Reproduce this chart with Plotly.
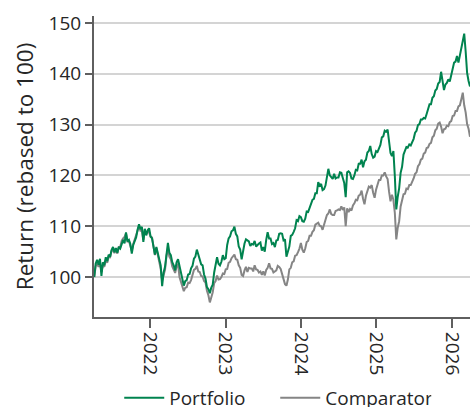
import pandas as pd
import plotly.graph_objects as go

# Weekly observations starting 2021-04-05
start_date = "2021-04-05"

portfolio = [
    100.0, 102.6, 103.4, 102.4, 103.6, 100.2, 102.9, 102.3, 103.9, 103.1,
    104.4, 104.0, 105.3, 105.9, 104.9, 105.7, 104.8, 105.9, 105.6, 106.7,
    107.3, 106.6, 108.8, 107.0, 107.3, 106.5, 104.6, 106.3, 106.9, 107.8,
    109.3, 110.4, 109.4, 109.9, 106.9, 109.5, 108.2, 109.2, 109.6, 108.0,
    107.6, 106.0, 104.4, 105.9, 104.6, 103.9, 102.3, 98.2, 100.9, 102.0,
    104.7, 106.7, 104.8, 104.3, 102.9, 102.3, 101.3, 102.9, 103.5, 102.2,
    101.2, 99.5, 98.3, 99.2, 99.4, 100.5, 100.6, 101.7, 102.2, 103.6,
    104.0, 105.4, 104.4, 103.9, 102.5, 102.3, 100.5, 99.7, 98.0, 97.6,
    96.8, 97.9, 98.5, 100.9, 102.2, 103.9, 102.6, 102.3, 103.0, 104.3,
    103.5, 103.7, 106.3, 107.6, 108.0, 109.0, 109.2, 109.9, 108.5, 108.0,
    106.0, 105.4, 103.5, 105.5, 106.6, 107.4, 107.2, 107.0, 106.1, 106.5,
    106.4, 107.1, 106.0, 106.4, 106.6, 106.8, 105.2, 105.9, 105.0, 107.3,
    108.8, 107.6, 107.6, 106.5, 106.7, 105.9, 107.2, 107.3, 108.5, 108.6,
    108.5, 107.2, 107.4, 104.0, 104.8, 106.0, 108.1, 108.3, 108.9, 109.6,
    111.2, 111.0, 112.0, 111.8, 111.0, 110.9, 111.5, 112.9, 112.8, 113.6,
    114.0, 115.2, 115.4, 116.5, 116.5, 118.7, 118.0, 118.3, 117.1, 117.3,
    118.0, 119.6, 121.3, 120.0, 119.6, 119.3, 120.3, 119.4, 119.6, 119.6,
    120.6, 120.5, 119.5, 118.5, 115.7, 120.6, 120.8, 120.5, 119.4, 119.3,
    120.0, 121.1, 121.0, 122.3, 122.3, 123.1, 121.6, 122.8, 123.1, 124.5,
    124.8, 125.8, 124.2, 123.5, 123.7, 124.8, 124.6, 125.3, 126.0, 127.5,
    127.7, 128.8, 128.6, 129.0, 126.1, 124.4, 123.8, 124.8, 119.8, 113.3,
    115.8, 117.5, 120.5, 121.7, 124.1, 124.8, 125.6, 125.5, 126.1, 125.9,
    126.6, 127.2, 128.4, 128.8, 129.9, 130.1, 131.0, 131.0, 131.3, 131.2,
    132.1, 133.0, 134.0, 134.0, 135.3, 135.6, 136.7, 137.0, 138.1, 138.4,
    140.4, 138.6, 136.8, 137.9, 138.2, 138.9, 138.5, 139.7, 141.0, 142.2,
    142.4, 143.5, 142.2, 143.7, 145.1, 147.0, 147.9, 144.4, 140.2, 138.6,
    137.5,
]

comparator = [
    100.0, 102.1, 102.6, 102.0, 102.8, 101.0, 102.3, 102.0, 103.4, 102.8,
    104.0, 103.9, 105.1, 105.4, 104.7, 105.4, 104.6, 105.9, 105.9, 107.1,
    107.6, 107.9, 108.6, 107.0, 107.1, 106.3, 105.2, 106.5, 107.3, 108.2,
    109.3, 110.0, 109.1, 109.1, 107.3, 109.3, 108.4, 108.9, 108.8, 107.9,
    107.8, 106.1, 104.3, 105.7, 104.4, 103.5, 101.6, 99.3, 100.5, 101.4,
    104.2, 105.5, 104.0, 103.5, 102.1, 101.6, 100.8, 102.1, 102.6, 100.0,
    99.2, 98.0, 97.2, 97.9, 98.0, 98.9, 98.8, 99.4, 100.2, 101.4,
    101.6, 102.2, 101.1, 101.0, 100.2, 100.1, 99.2, 98.9, 97.3, 96.4,
    95.0, 96.1, 97.0, 98.8, 99.2, 100.3, 99.5, 99.6, 100.0, 100.7,
    100.6, 101.5, 101.6, 102.8, 103.0, 103.7, 104.0, 104.4, 103.5, 103.4,
    102.3, 101.8, 100.4, 100.2, 101.3, 102.0, 101.0, 101.8, 101.7, 101.7,
    101.1, 102.3, 101.5, 101.4, 100.9, 101.1, 100.4, 101.1, 100.3, 101.4,
    101.8, 102.7, 101.7, 101.6, 100.9, 101.2, 101.3, 102.2, 102.0, 101.6,
    100.5, 99.8, 98.6, 98.3, 99.5, 101.5, 101.8, 102.9, 103.1, 104.2,
    104.3, 104.9, 105.6, 106.7, 105.4, 104.8, 105.6, 106.9, 107.1, 108.1,
    108.1, 108.9, 109.2, 110.3, 110.5, 110.7, 110.1, 110.0, 109.3, 110.4,
    111.0, 112.2, 112.5, 113.3, 112.4, 112.2, 112.2, 113.0, 113.1, 113.3,
    113.2, 113.9, 113.2, 113.7, 110.0, 113.5, 112.8, 113.4, 113.1, 114.1,
    114.5, 115.2, 115.1, 116.0, 116.2, 117.0, 115.4, 114.3, 116.0, 117.1,
    117.8, 117.6, 118.1, 116.6, 115.6, 117.2, 118.3, 119.1, 119.1, 120.0,
    120.0, 120.6, 119.8, 119.3, 116.8, 114.9, 116.2, 115.2, 112.6, 107.4,
    109.7, 111.0, 113.9, 114.9, 116.3, 116.4, 117.4, 117.3, 118.1, 118.1,
    118.7, 119.4, 120.3, 120.6, 121.8, 122.2, 123.1, 123.3, 124.3, 124.5,
    125.4, 125.5, 126.2, 126.4, 127.5, 127.8, 128.9, 129.2, 130.2, 130.4,
    129.6, 128.3, 129.1, 129.2, 129.8, 129.7, 130.5, 130.7, 131.7, 131.8,
    132.7, 132.7, 133.6, 133.8, 135.0, 136.3, 133.8, 132.4, 130.1, 129.2,
    127.6,
]

y_ticks = [100, 110, 120, 130, 140, 150]
x_ticks = ["2022-01-01", "2023-01-01", "2024-01-01", "2025-01-01", "2026-01-01"]
x_tick_labels = ["2022", "2023", "2024", "2025", "2026"]

dates_p = pd.date_range(start_date, periods=len(portfolio), freq="7D")
dates_c = pd.date_range(start_date, periods=len(comparator), freq="7D")

GREEN = "#00834f"
GREY = "#858585"
AXIS = "#5f5f5f"
TEXT = "#262626"
FONT = "Open Sans"

fig = go.Figure()
fig.add_trace(go.Scatter(x=dates_c, y=comparator, mode="lines", name="Comparator",
                         line=dict(color=GREY, width=2), legendrank=2))
fig.add_trace(go.Scatter(x=dates_p, y=portfolio, mode="lines", name="Portfolio",
                         line=dict(color=GREEN, width=2), legendrank=1))

fig.update_layout(
    width=470, height=407,
    margin=dict(l=94, r=0, t=16, b=90, autoexpand=False),
    paper_bgcolor="white", plot_bgcolor="white",
    font=dict(family=FONT, size=19, color=TEXT),
    showlegend=True,
    legend=dict(orientation="h", x=0.482, xanchor="center", y=-0.206, yanchor="top",
                font=dict(size=19, color=TEXT), traceorder="normal",
                itemwidth=40, entrywidth=101, bgcolor="rgba(0,0,0,0)"),
    xaxis=dict(
        type="date",
        range=["2021-04-04", "2026-03-30"],
        tickvals=x_ticks, ticktext=x_tick_labels, tickangle=90,
        showgrid=False, zeroline=False,
        showline=True, linecolor=AXIS, linewidth=2,
        ticks="outside", ticklen=9, tickwidth=2, tickcolor=AXIS,
        tickfont=dict(size=19, color=TEXT),
    ),
    yaxis=dict(
        range=[92.13, 151.38],
        tickvals=y_ticks,
        showgrid=True, gridcolor="#d4d4d4", gridwidth=2,
        zeroline=False,
        showline=True, linecolor=AXIS, linewidth=2,
        ticks="outside", ticklen=7, tickwidth=2, tickcolor=AXIS,
        tickfont=dict(size=19, color=TEXT),
        title=dict(text="Return (rebased to 100)", font=dict(size=22.5, color=TEXT), standoff=9),
    ),
)

fig.write_html(
    "out.html",
    config={"displayModeBar": False},
    post_script="document.body.style.margin='0px';document.body.style.overflow='hidden';",
)
